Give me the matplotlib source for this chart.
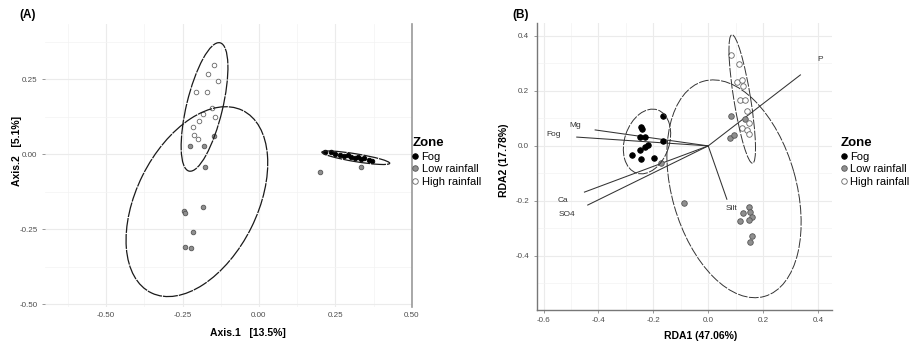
import numpy as np
import matplotlib
matplotlib.use('Agg')
import matplotlib.pyplot as plt
from matplotlib.patches import Ellipse
from matplotlib.lines import Line2D

plt.rcParams['font.family'] = ['Liberation Sans', 'DejaVu Sans']
plt.rcParams['axes.unicode_minus'] = False

zones = ['Fog', 'Low rainfall', 'High rainfall']

# ---- panel A (PCoA) ----
a_fog_x = [0.215, 0.235, 0.25, 0.265, 0.28, 0.29, 0.30, 0.315, 0.325, 0.335, 0.345, 0.36, 0.37]
a_fog_y = [0.008, 0.006, 0.002, -0.002, -0.006, -0.004, -0.010, -0.012, -0.008, -0.016, -0.014, -0.020, -0.022]
a_low_x = [-0.147, -0.225, -0.180, -0.176, -0.245, -0.243, -0.183, -0.216, -0.242, -0.222, 0.199, 0.333]
a_low_y = [0.060, 0.027, 0.027, -0.043, -0.189, -0.197, -0.176, -0.259, -0.309, -0.313, -0.060, -0.043]
a_high_x = [-0.147, -0.167, -0.134, -0.206, -0.170, -0.154, -0.183, -0.144, -0.196, -0.216, -0.212, -0.199]
a_high_y = [0.299, 0.269, 0.243, 0.209, 0.209, 0.156, 0.133, 0.123, 0.110, 0.090, 0.066, 0.050]
# ellipses: centre x, centre y, width, height, angle (deg)
a_ell = {'Fog': (0.317, -0.0115, 0.225, 0.026, -9.5),
         'Low rainfall': (-0.203, -0.158, 0.678, 0.396, 64.0),
         'High rainfall': (-0.178, 0.158, 0.44, 0.118, 76.7)}

# ---- panel B (RDA) ----
b_fog_x = [-0.163, -0.246, -0.242, -0.248, -0.232, -0.163, -0.218, -0.230, -0.248, -0.278, -0.245, -0.196]
b_fog_y = [0.109, 0.070, 0.061, 0.032, 0.032, 0.016, 0.004, -0.005, -0.015, -0.033, -0.047, -0.044]
b_low_x = [-0.171, -0.090, 0.083, 0.080, 0.095, 0.133, 0.150, 0.127, 0.153, 0.159, 0.150, 0.117, 0.159, 0.151]
b_low_y = [-0.063, -0.206, 0.110, 0.028, 0.040, 0.097, -0.221, -0.245, -0.239, -0.257, -0.269, -0.273, -0.326, -0.348]
b_high_x = [0.084, 0.113, 0.105, 0.123, 0.127, 0.117, 0.135, 0.141, 0.147, 0.123, 0.143, 0.147]
b_high_y = [0.331, 0.298, 0.234, 0.238, 0.218, 0.167, 0.165, 0.125, 0.083, 0.064, 0.058, 0.044]
b_ell = {'Fog': (-0.223, 0.016, 0.242, 0.163, 71.6),
         'Low rainfall': (0.094, -0.156, 0.813, 0.453, 105.9),
         'High rainfall': (0.124, 0.1705, 0.473, 0.061, 99.2)}
vec_names = ['P', 'Mg', 'Fog', 'Ca', 'SO4', 'Silt']
vec_x = [0.336, -0.412, -0.479, -0.451, -0.439, 0.068]
vec_y = [0.258, 0.058, 0.032, -0.168, -0.215, -0.194]
lab_x = [0.409, -0.485, -0.562, -0.530, -0.516, 0.086]
lab_y = [0.313, 0.073, 0.040, -0.200, -0.251, -0.227]

styles = {'Fog': dict(facecolor='black', edgecolor='black'),
          'Low rainfall': dict(facecolor='#8f8f8f', edgecolor='#555555'),
          'High rainfall': dict(facecolor='white', edgecolor='#666666')}

fig = plt.figure(figsize=(9.19, 3.42), dpi=100)
axA = fig.add_axes([0.049, 0.102, 0.399, 0.828])
axB = fig.add_axes([0.584, 0.094, 0.321, 0.839])


def base_style(ax):
    ax.set_facecolor('white')
    ax.grid(True, which='major', color='#ebebeb', lw=0.8)
    ax.grid(True, which='minor', color='#f3f3f3', lw=0.5)
    ax.set_axisbelow(True)
    ax.tick_params(labelsize=5.8, labelcolor='#4d4d4d', color='#888888', length=2, width=0.6)
    ax.tick_params(which='minor', length=0)


# panel A
base_style(axA)
for z, xs, ys in [('Fog', a_fog_x, a_fog_y), ('Low rainfall', a_low_x, a_low_y),
                  ('High rainfall', a_high_x, a_high_y)]:
    axA.scatter(xs, ys, s=11, linewidths=0.6, zorder=3, **styles[z])
for z, (cx, cy, w, h, ang) in a_ell.items():
    axA.add_patch(Ellipse((cx, cy), w, h, angle=ang, fill=False, ec='#1a1a1a',
                          lw=0.9, ls=(0, (12, 0.8)), zorder=4))
axA.set_xlim(-0.70, 0.50)
axA.set_ylim(-0.51, 0.435)
axA.set_xticks([-0.5, -0.25, 0, 0.25, 0.5])
axA.set_xticklabels(['-0.50', '-0.25', '0.00', '0.25', '0.50'])
axA.set_yticks([-0.5, -0.25, 0, 0.25])
axA.set_yticklabels(['-0.50', '-0.25', '0.00', '0.25'])
axA.set_xticks([-0.625, -0.375, -0.125, 0.125, 0.375], minor=True)
axA.set_yticks([-0.375, -0.125, 0.125, 0.375], minor=True)
axA.tick_params(axis='x', length=0)
for sp in ['left', 'top', 'bottom']:
    axA.spines[sp].set_visible(False)
axA.spines['right'].set_color('#999999')
axA.spines['right'].set_linewidth(1.2)
axA.set_xlabel('Axis.1   [13.5%]', fontsize=7.5, fontweight='bold')
axA.set_ylabel('Axis.2   [5.1%]', fontsize=7.5, fontweight='bold')
axA.xaxis.set_label_coords(0.552, -0.075)
axA.yaxis.set_label_coords(-0.062, 0.55)
fig.text(0.021, 0.955, '(A)', fontsize=8.5, fontweight='bold', va='center')

# panel B
base_style(axB)
for vx, vy in zip(vec_x, vec_y):
    axB.plot([0, vx], [0, vy], color='#333333', lw=0.75, zorder=2)
for name, tx, ty in zip(vec_names, lab_x, lab_y):
    axB.text(tx, ty, name, fontsize=6, color='#333333', ha='center', va='center', zorder=5)
for z, xs, ys in [('Fog', b_fog_x, b_fog_y), ('Low rainfall', b_low_x, b_low_y),
                  ('High rainfall', b_high_x, b_high_y)]:
    axB.scatter(xs, ys, s=16, linewidths=0.6, zorder=3, **styles[z])
for z, (cx, cy, w, h, ang) in b_ell.items():
    axB.add_patch(Ellipse((cx, cy), w, h, angle=ang, fill=False, ec='#333333',
                          lw=0.7, ls=(0, (10, 1.5)), zorder=4))
axB.set_xlim(-0.625, 0.45)
axB.set_ylim(-0.596, 0.447)
axB.set_xticks([-0.6, -0.4, -0.2, 0.0, 0.2, 0.4])
axB.set_yticks([-0.4, -0.2, 0.0, 0.2, 0.4])
axB.set_xticks([-0.5, -0.3, -0.1, 0.1, 0.3], minor=True)
axB.set_yticks([-0.5, -0.3, -0.1, 0.1, 0.3], minor=True)
for sp in ['right', 'top']:
    axB.spines[sp].set_visible(False)
for sp in ['left', 'bottom']:
    axB.spines[sp].set_color('#777777')
    axB.spines[sp].set_linewidth(1.0)
axB.set_xlabel('RDA1 (47.06%)', fontsize=7.5, fontweight='bold')
axB.set_ylabel('RDA2 (17.78%)', fontsize=7.5, fontweight='bold')
axB.xaxis.set_label_coords(0.555, -0.073)
axB.yaxis.set_label_coords(-0.095, 0.52)
fig.text(0.557, 0.955, '(B)', fontsize=8.5, fontweight='bold', va='center')

# legends
handles = [Line2D([], [], ls='', marker='o', markersize=4, markerfacecolor=styles[z]['facecolor'],
                  markeredgecolor=styles[z]['edgecolor'], markeredgewidth=0.6) for z in zones]
for xpos in [0.449, 0.915]:
    fig.legend(handles, zones, title='Zone', loc='upper left', bbox_to_anchor=(xpos, 0.60),
               frameon=False, fontsize=8, title_fontproperties={'weight': 'bold', 'size': 9.5},
               handlelength=0.5, handletextpad=0.3, labelspacing=0.25, borderaxespad=0,
               borderpad=0, alignment='left')

fig.savefig('out.png', dpi=100, facecolor='white')
